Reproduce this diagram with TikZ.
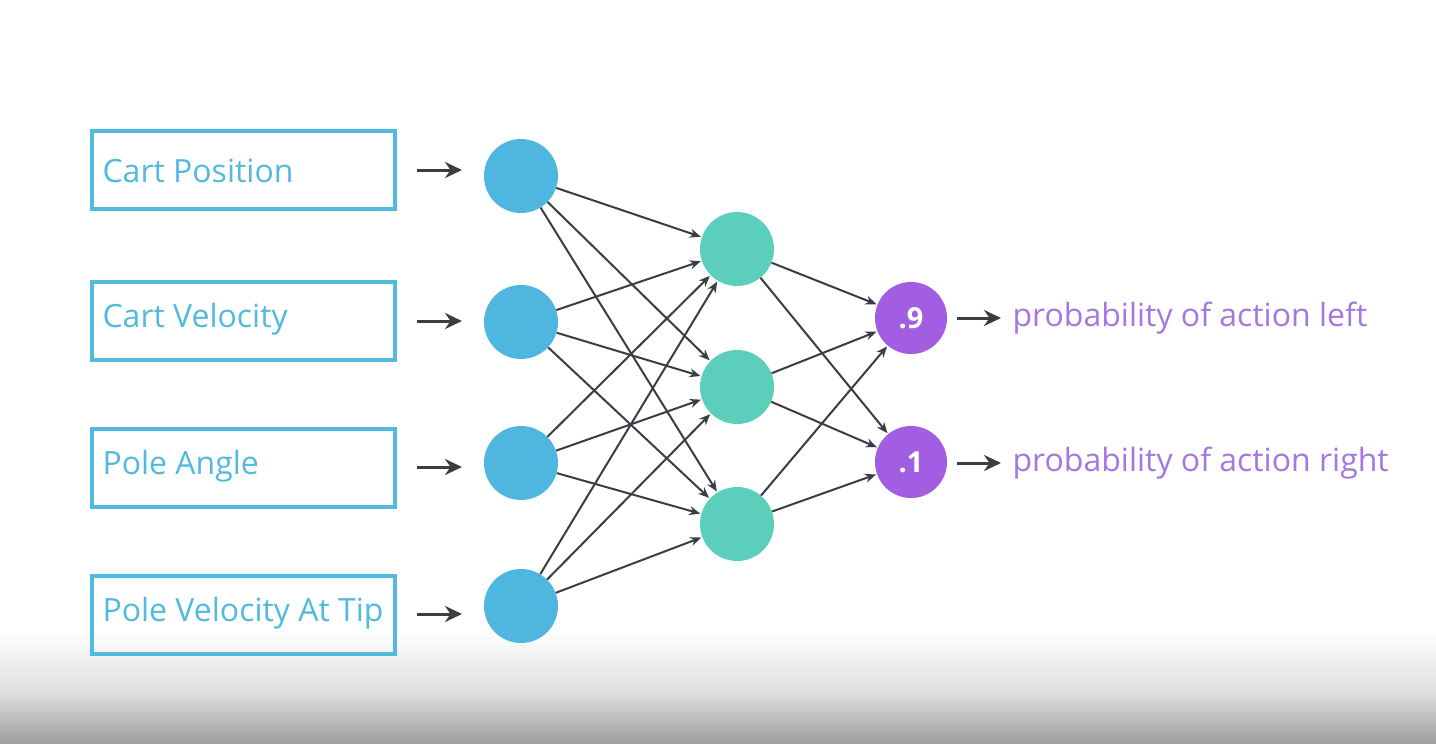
\documentclass[tikz,border=0pt]{standalone}
\usepackage{fontspec}
\setmainfont{Open Sans}
\usetikzlibrary{arrows.meta}
\definecolor{inblue}{HTML}{4FB6E0}
\definecolor{boxblue}{HTML}{52BADF}
\definecolor{hidteal}{HTML}{5CCFBC}
\definecolor{outpurple}{HTML}{A25EE2}
\definecolor{txtpurple}{HTML}{A577E0}
\definecolor{arrgray}{HTML}{3A3E44}
\tikzset{
  inbox/.style={draw=boxblue, line width=4pt, minimum width=303pt, minimum height=78pt, inner sep=0pt},
  boxtext/.style={text=boxblue, font=\fontsize{32}{36}\selectfont, anchor=west},
  inneuron/.style={circle, fill=inblue, minimum size=74pt, inner sep=0pt},
  hidneuron/.style={circle, fill=hidteal, minimum size=74pt, inner sep=0pt},
  outneuron/.style={circle, fill=outpurple, minimum size=72pt, inner sep=0pt, text=white, font=\fontsize{29}{32}\selectfont\bfseries},
  outtext/.style={text=txtpurple, font=\fontsize{32}{36}\selectfont, anchor=west},
  bigarrow/.style={draw=arrgray, line width=3pt, -{Stealth[length=17pt,width=16pt]}},
  edge/.style={draw=arrgray, line width=2pt, -{Stealth[length=11pt,width=9pt]}, shorten >=1pt}
}
\begin{document}
\begin{tikzpicture}[x=1pt,y=-1pt]
\useasboundingbox (0,0) rectangle (1436,744);
\fill[white] (0,0) rectangle (1436,744);
\shade[top color=white, bottom color=black!12] (0,630) rectangle (1436,690);
\shade[top color=black!12, bottom color=black!38] (0,690) rectangle (1436,744);

% input boxes
\node[inbox] (b1) at (243.5,170) {};
\node[inbox] (b2) at (243.5,320.5) {};
\node[inbox] (b3) at (243.5,468) {};
\node[inbox] (b4) at (243.5,615) {};
\node[boxtext] (t1) at (99,171) {Cart Position};
\node[boxtext] (t2) at (99,319) {Cart Velocity};
\node[boxtext] (t3) at (99,466) {Pole Angle};
\node[boxtext] (t4) at (99,613) {Pole Velocity At Tip};

% neurons
\node[inneuron] (i1) at (521,176) {};
\node[inneuron] (i2) at (521,322) {};
\node[inneuron] (i3) at (521,463) {};
\node[inneuron] (i4) at (521,606) {};
\node[hidneuron] (h1) at (737,249) {};
\node[hidneuron] (h2) at (737,387) {};
\node[hidneuron] (h3) at (737,524) {};
\node[outneuron] (o1) at (911,318) {.9};
\node[outneuron] (o2) at (911,462) {.1};

% input arrows
\coordinate (a1s) at (417,170); \coordinate (a1e) at (462,170);
\coordinate (a2s) at (417,321); \coordinate (a2e) at (462,321);
\coordinate (a3s) at (417,467); \coordinate (a3e) at (462,467);
\coordinate (a4s) at (417,614); \coordinate (a4e) at (462,614);
\draw[bigarrow] (a1s) -- (a1e);
\draw[bigarrow] (a2s) -- (a2e);
\draw[bigarrow] (a3s) -- (a3e);
\draw[bigarrow] (a4s) -- (a4e);

% edges
\foreach \i in {i1,i2,i3,i4}{
  \foreach \h in {h1,h2,h3}{
    \draw[edge] (\i) -- (\h);
  }
}
\foreach \h in {h1,h2,h3}{
  \foreach \o in {o1,o2}{
    \draw[edge] (\h) -- (\o);
  }
}

% output arrows and labels
\coordinate (c1s) at (957,318); \coordinate (c1e) at (1001,318);
\coordinate (c2s) at (957,463); \coordinate (c2e) at (1001,463);
\draw[bigarrow] (c1s) -- (c1e);
\draw[bigarrow] (c2s) -- (c2e);
\node[outtext] (l1) at (1009,318) {probability of action left};
\node[outtext] (l2) at (1009,463) {probability of action right};
\end{tikzpicture}
\end{document}
